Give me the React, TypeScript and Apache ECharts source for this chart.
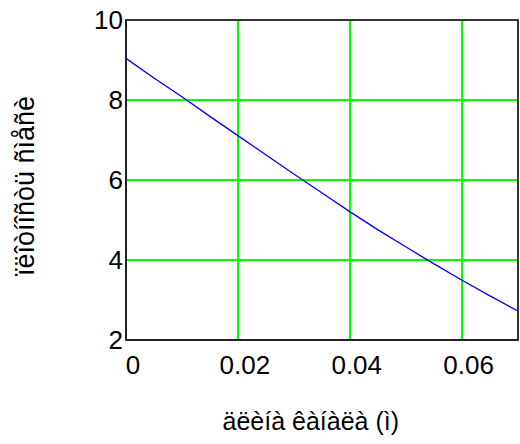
import React, { useEffect, useRef } from "react";
import * as echarts from "echarts";

const xValues = [0, 0.005, 0.01, 0.015, 0.02, 0.025, 0.03, 0.035, 0.04, 0.045, 0.05, 0.055, 0.06, 0.065, 0.07];
const densityValues = [9.04, 8.55, 8.08, 7.59, 7.11, 6.63, 6.15, 5.68, 5.21, 4.76, 4.33, 3.91, 3.5, 3.11, 2.73];
const xTitle = "äëèíà êàíàëà (ì)";
const yTitle = "ïëîòíîñòü ñìåñè";

const FONT = "'Liberation Sans', Arial, sans-serif";

export default function App() {
  const ref = useRef<HTMLDivElement>(null);
  useEffect(() => {
    if (!ref.current) return;
    const chart = echarts.init(ref.current, null, { renderer: "svg" });
    const frameAxis = {
      type: "value",
      axisLine: { show: true, onZero: false, lineStyle: { color: "#333", width: 2 } },
      axisTick: { show: false },
      axisLabel: { show: false },
      splitLine: { show: false },
    };
    chart.setOption({
      animation: false,
      backgroundColor: "#ffffff",
      grid: {
        left: 126,
        right: 2.5,
        top: 20,
        bottom: 104,
        show: false,
      },
      xAxis: [
        {
          type: "value",
          min: 0,
          max: 0.07,
          interval: 0.02,
          name: xTitle,
          nameLocation: "middle",
          nameGap: 68,
          nameTextStyle: { fontFamily: FONT, fontSize: 25, color: "#000", padding: [0, 22, 0, 0] },
          axisLine: { show: true, onZero: false, lineStyle: { color: "#222", width: 2 } },
          axisTick: { show: false },
          axisLabel: {
            fontFamily: FONT,
            fontSize: 26,
            color: "#000",
            margin: 12,
            showMaxLabel: false,
            padding: [0, 0, 0, 14],
          },
          splitLine: { show: true, lineStyle: { color: "#00ff00", width: 2 } },
        },
        { ...frameAxis, position: "top", min: 0, max: 0.07 },
      ],
      yAxis: [
        {
          type: "value",
          min: 2,
          max: 10,
          interval: 2,
          name: yTitle,
          nameLocation: "middle",
          nameGap: 88,
          nameRotate: 90,
          nameTextStyle: { fontFamily: FONT, fontSize: 27, color: "#000", padding: [0, 12, 0, 0] },
          axisLine: { show: true, onZero: false, lineStyle: { color: "#222", width: 2 } },
          axisTick: { show: false },
          axisLabel: {
            fontFamily: FONT,
            fontSize: 26,
            color: "#000",
            margin: 3,
            padding: [6, 0, 0, 0],
          },
          splitLine: { show: true, lineStyle: { color: "#00ff00", width: 2 } },
        },
        { ...frameAxis, position: "right", min: 2, max: 10 },
      ],
      series: [
        {
          type: "line",
          xAxisIndex: 0,
          yAxisIndex: 0,
          data: xValues.map((x, i) => [x, densityValues[i]]),
          showSymbol: false,
          lineStyle: { color: "#0000ff", width: 1.3 },
          itemStyle: { color: "#0000ff" },
        },
      ],
    });
    return () => chart.dispose();
  }, []);
  return <div ref={ref} style={{ position: "absolute", left: 0, top: 0, width: 520, height: 444 }} />;
}
